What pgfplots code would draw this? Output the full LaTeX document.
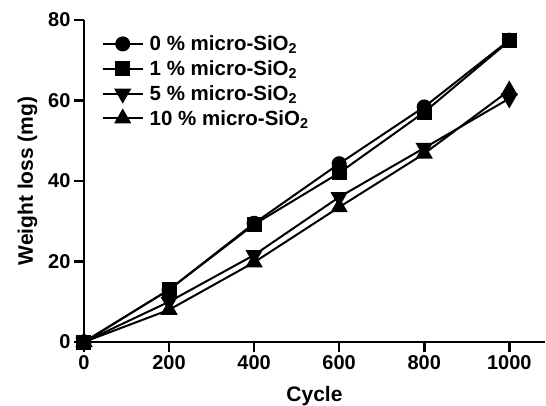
\documentclass[border=0pt]{standalone}
\usepackage{fontspec}
\setmainfont{Liberation Sans}
\usepackage{pgfplots}
\pgfplotsset{compat=1.18}
\begin{document}
\begin{tikzpicture}
\path[use as bounding box] (-84pt,-63pt) rectangle (462pt,342pt);
\begin{axis}[
  at={(0,0)}, anchor=south west,
  scale only axis, width=461pt, height=322pt,
  xmin=0, xmax=1084, ymin=0, ymax=80,
  axis lines=left, axis line style={line width=2.4pt, -},
  xtick={0,200,...,1000}, ytick={0,20,...,80},
  tick align=outside, major tick length=10pt,
  every tick/.style={line width=2.6pt, black},
  tick label style={font=\bfseries\fontsize{20}{24}\selectfont},
  /pgf/number format/assume math mode=true,
  /pgf/number format/1000 sep={},
  xlabel={\bfseries\fontsize{21}{25}\selectfont Cycle},
  ylabel={\bfseries\fontsize{21}{25}\selectfont Weight loss (mg)},
  xlabel style={yshift=-10pt},
  ylabel style={yshift=4pt},
  clip=false,
  legend cell align=left,
  legend style={draw=none, fill=none, at={(0.038,0.958)}, anchor=north west,
    inner sep=0pt, row sep=4.5pt, column sep=4pt, font=\bfseries\fontsize{20.5}{24}\selectfont},
  legend image code/.code={\draw[mark repeat=2,mark phase=2] plot coordinates {(0pt,0pt)(20pt,0pt)(40pt,0pt)};},
  every axis plot/.append style={black, line width=2pt},
]
\addplot[mark=*, mark size=6.5pt] coordinates {(0,0)(200,13)(400,29.5)(600,44.3)(800,58.4)(1000,75)};
\addlegendentry{0 \% micro-SiO\textsubscript{2}}
\addplot[mark=square*, mark size=6.5pt] coordinates {(0,0)(200,13)(400,29.2)(600,42)(800,57.1)(1000,74.8)};
\addlegendentry{1 \% micro-SiO\textsubscript{2}}
\addplot[mark=triangle*, mark size=8pt, mark options={rotate=180}] coordinates {(0,0)(200,10)(400,21.6)(600,36)(800,48.2)(1000,60.5)};
\addlegendentry{5 \% micro-SiO\textsubscript{2}}
\addplot[mark=triangle*, mark size=8pt] coordinates {(0,0)(200,8)(400,19.8)(600,33.5)(800,46.8)(1000,62.5)};
\addlegendentry{10 \% micro-SiO\textsubscript{2}}
\end{axis}
\end{tikzpicture}
\end{document}
